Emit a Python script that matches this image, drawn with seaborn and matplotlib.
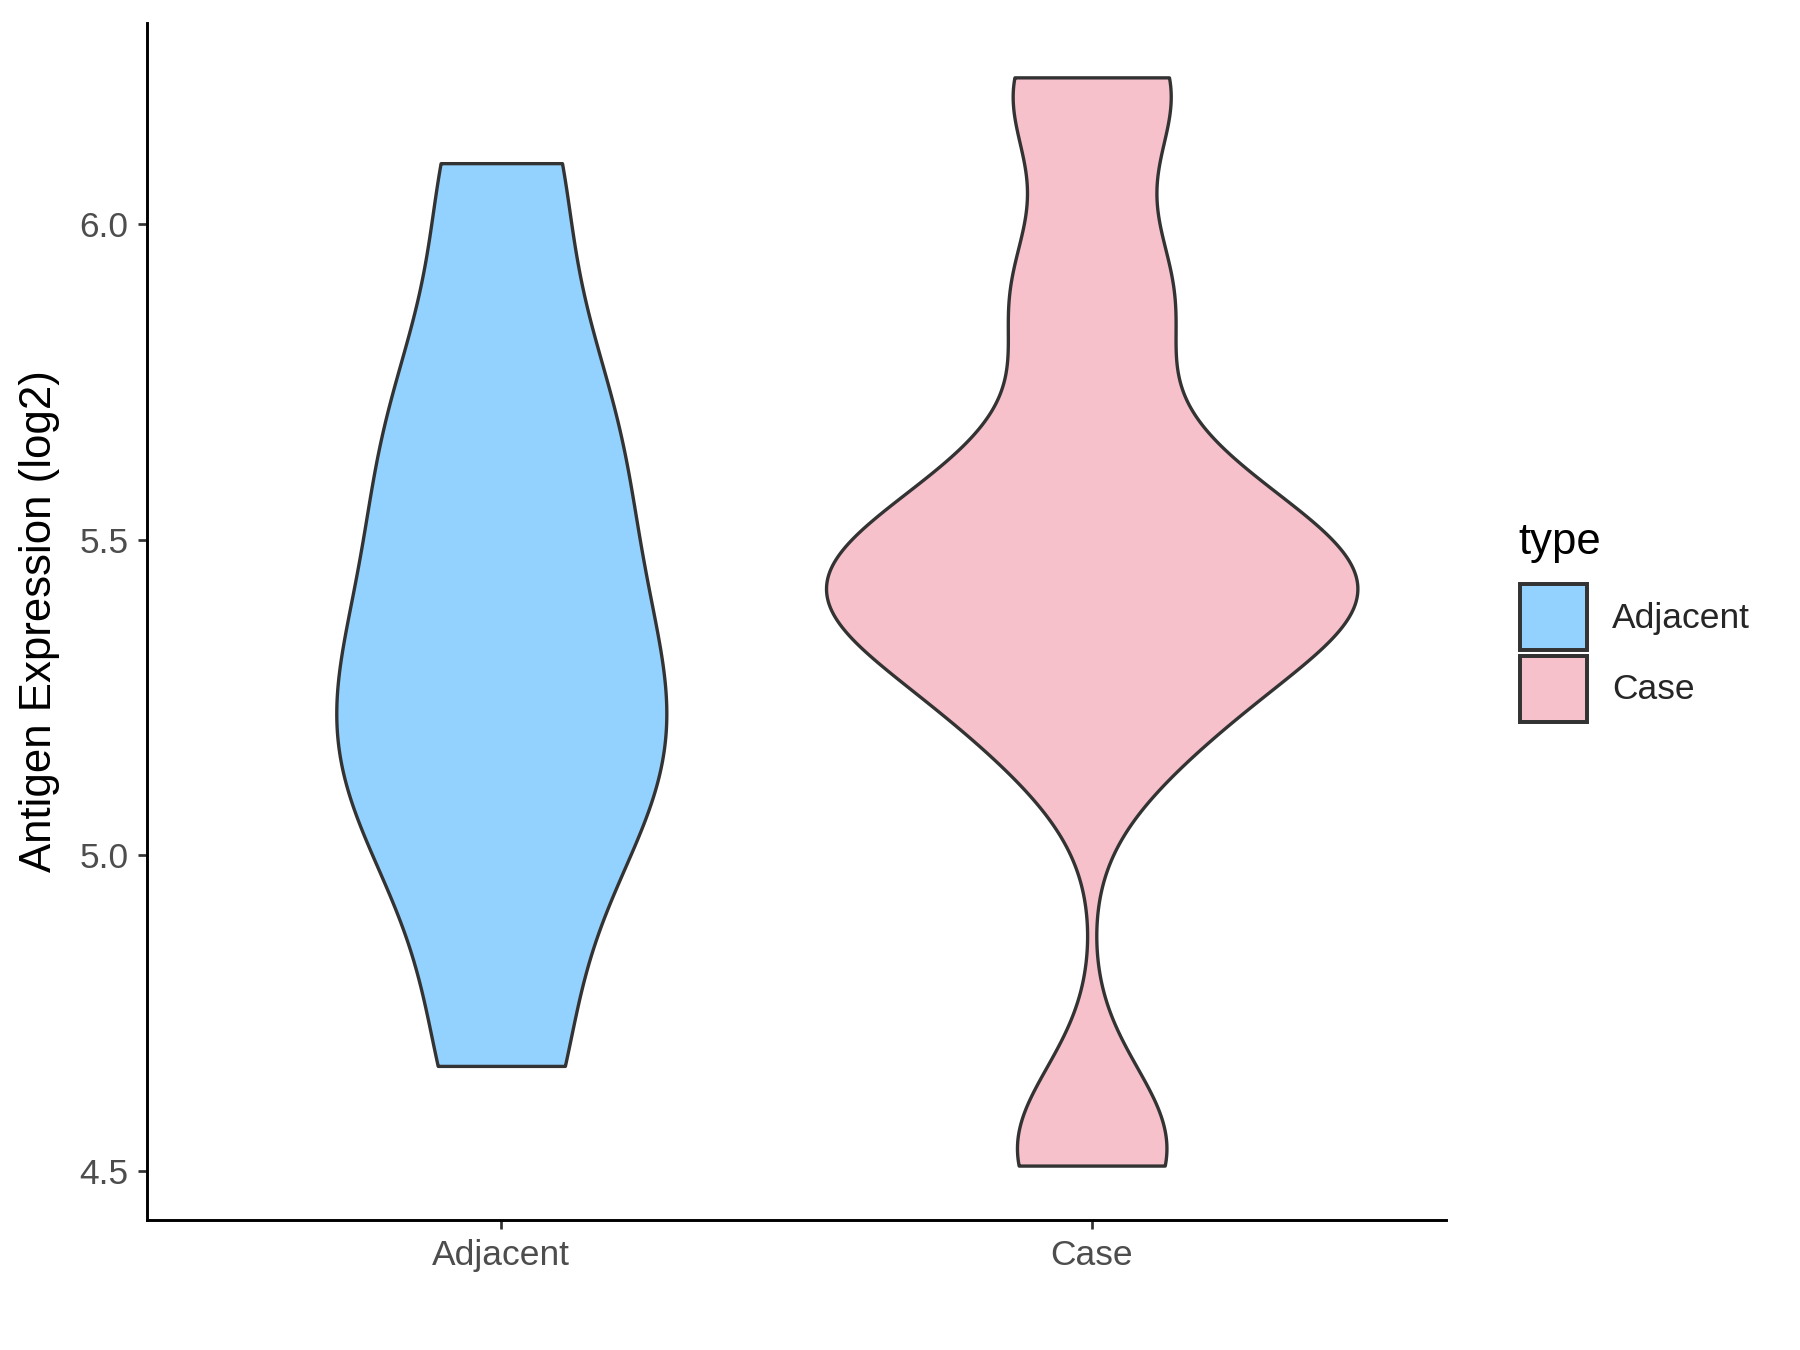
import numpy as np
import pandas as pd
import seaborn as sns
import matplotlib.pyplot as plt
from matplotlib.patches import Patch

# groups and expression values (log2) estimated from the violin outlines
groups = ['Adjacent', 'Case']
adjacent_vals = [4.666, 5.003, 5.137, 5.243, 5.384, 5.598, 5.743, 6.097]
case_vals = [4.508, 4.563, 5.205, 5.205, 5.359, 5.411, 5.415, 5.416, 5.417, 5.481,
             5.599, 5.601, 5.856, 5.916, 6.201, 6.233]
colors = ['#93D2FE', '#F7C1CC']
y_ticks = [4.5, 5.0, 5.5, 6.0]
# kernel bandwidth of each group (keyed by group size)
bandwidth = {len(adjacent_vals): 0.192, len(case_vals): 0.125}

df = pd.DataFrame({'type': ['Adjacent'] * len(adjacent_vals) + ['Case'] * len(case_vals),
                   'expr': adjacent_vals + case_vals})

sns.set_theme(style='ticks')
plt.rcParams['font.family'] = ['Liberation Sans', 'DejaVu Sans']

fig = plt.figure(figsize=(12, 9), dpi=150)
ax = fig.add_axes([0.0817, 0.0963, 0.7216, 0.8867])

sns.violinplot(data=df, x='type', y='expr', hue='type', order=groups, hue_order=groups,
               palette=colors, saturation=1, cut=0, density_norm='area', common_norm=True,
               width=0.9, inner=None, linewidth=1.6, linecolor='#333333', gridsize=512,
               bw_method=lambda k: bandwidth[k.n] / k.dataset.std(ddof=1),
               legend=False, ax=ax)

# ggplot-like expansion of the axes
lo, hi = df['expr'].min(), df['expr'].max()
rng = hi - lo
ax.set_ylim(lo - 0.05 * rng, hi + 0.05 * rng)
ax.set_xlim(-0.6, 1.6)
ax.set_yticks(y_ticks)
ax.set_yticklabels(['{:.1f}'.format(t) for t in y_ticks])

ax.set_xlabel('')
ax.set_ylabel('Antigen Expression (log2)', fontsize=21, color='black', labelpad=9)
ax.tick_params(axis='both', labelsize=17, labelcolor='#4D4D4D', color='#333333',
               length=4.5, width=1.3, pad=4.5)
ax.spines['top'].set_visible(False)
ax.spines['right'].set_visible(False)
for s in ['left', 'bottom']:
    ax.spines[s].set_linewidth(1.4)
    ax.spines[s].set_color('black')

# legend: title as separate text, keys below it
fig.text(0.8433, 0.5893, 'type', fontsize=21, color='black', ha='left', va='baseline')
handles = [Patch(facecolor=c, edgecolor='#333333', linewidth=1.9, label=g)
           for g, c in zip(groups, colors)]
fig.legend(handles=handles, loc='upper left', bbox_to_anchor=(0.8444, 0.5674),
           frameon=False, fontsize=17, handlelength=1.9, handleheight=2.5,
           handletextpad=0.7, labelspacing=0.15, borderpad=0, borderaxespad=0)

fig.savefig('out.png', dpi=150)
